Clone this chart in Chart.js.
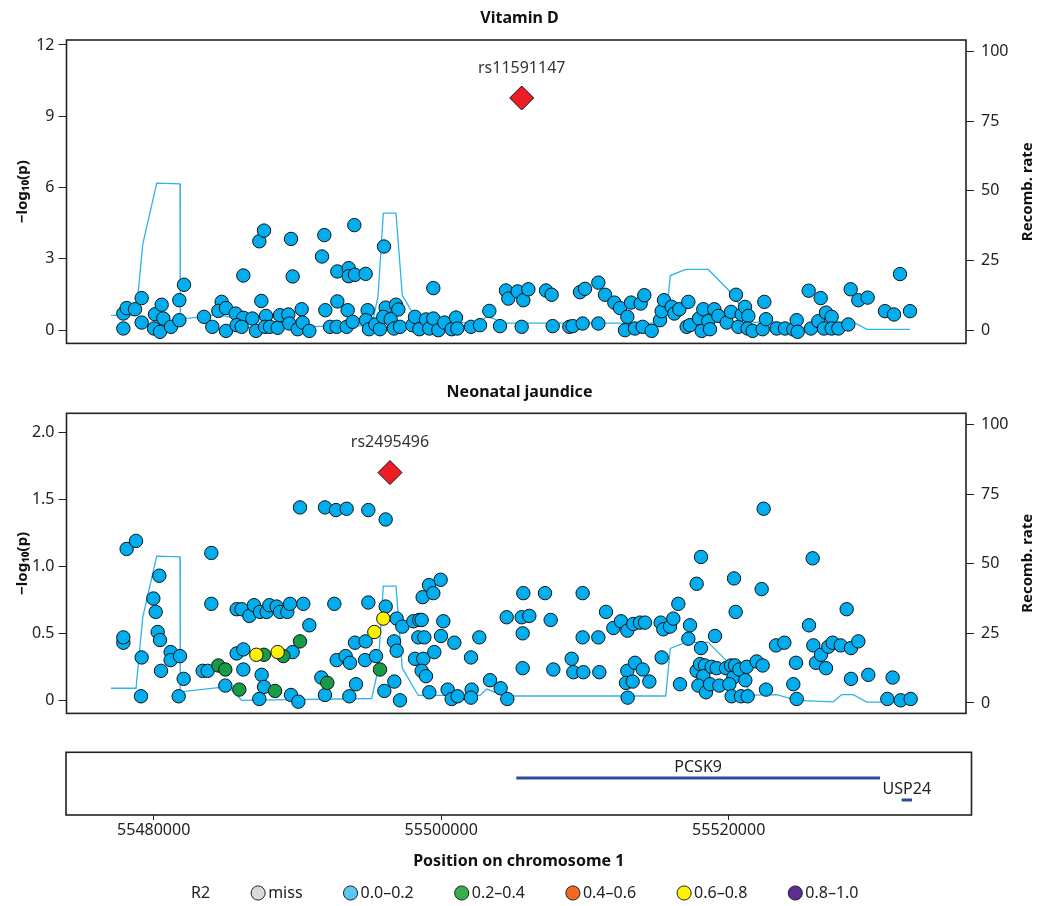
<!DOCTYPE html>
<html>
<head>
<meta charset="utf-8">
<script src="https://cdn.jsdelivr.net/npm/chart.js@4.4.1/dist/chart.umd.min.js"></script>
<style>
html,body{margin:0;padding:0;background:#fff;overflow:hidden;width:1039px;height:906px;}
canvas{position:absolute;left:0;}
#cA{top:0;} #cB{top:360px;} #cC{top:730px;}
</style>
</head>
<body>
<canvas id="cA" width="1039" height="360"></canvas>
<canvas id="cB" width="1039" height="370"></canvas>
<canvas id="cC" width="1039" height="190"></canvas>
<script>
// ---------------- DATA ----------------
const xTicks = [55480000, 55500000, 55520000];
const vitDTicks = [0, 3, 6, 9, 12];
const jaundTicks = [0, 0.5, 1, 1.5, 2];
const jaundTickLabels = ['0', '0.5', '1.0', '1.5', '2.0'];
const recombTicks = [0, 25, 50, 75, 100];

const recombPos = [55477030, 55478769, 55479235, 55480209, 55481830, 55481850, 55484494, 55485517, 55486122, 55495165,
  55495604, 55495972, 55496856, 55497294, 55498407, 55502699, 55503165, 55504438, 55515617, 55515937,
  55517016, 55518581, 55519972, 55521711, 55523339, 55524730, 55527276, 55527861, 55528668, 55529600, 55532612];
const recombRate = [5.3, 5.3, 30.7, 52.8, 52.5, 4.0, 5.5, 4.5, 0.9, 1.6,
  12, 42, 42, 12.5, 2.7, 2.7, 5.0, 2.5, 2.5, 19.6,
  21.8, 21.8, 14.5, 2.8, 3.0, 0.9, 0.4, 3.0, 3.0, 0.3, 0.3];

const vitDLeadName = ['rs11591147'];
const vitDLeadPos = [55505600];
const vitDLeadLogp = [9.77];

const vitDPos = [55477888, 55477888, 55478119, 55478699, 55479163, 55479163, 55480090, 55480021, 55480554, 55480670,
  55480438, 55481203, 55481783, 55481783, 55482108, 55483499, 55484079, 55484728, 55484496, 55485029,
  55485029, 55485702, 55486235, 55485771, 55486119, 55486235, 55486861, 55487116, 55487348, 55487673,
  55487487, 55487812, 55487742, 55488090, 55488624, 55488786, 55489366, 55489435, 55489551, 55489667,
  55490015, 55490293, 55490363, 55490826, 55491708, 55491870, 55491939, 55492264, 55492774, 55492774,
  55492728, 55493424, 55493493, 55493563, 55493563, 55494003, 55493841, 55493957, 55494745, 55494884,
  55494768, 55494977, 55495418, 55495742, 55496021, 55496137, 55495974, 55496855, 55497018, 55496484,
  55496716, 55497134, 55497992, 55498177, 55498479, 55498942, 55499174, 55499452, 55499452, 55499800,
  55500218, 55500728, 55501029, 55501122, 55502073, 55502699, 55503348, 55504090, 55504507, 55504670, 55505319,
  55505598, 55505714, 55506062, 55507291, 55507685, 55507754, 55508914, 55509146, 55509656, 55510004,
  55509841, 55510931, 55510931, 55511395, 55512044, 55512438, 55512786, 55512949, 55513204, 55513482,
  55513876, 55514131, 55514015, 55514641, 55515221, 55515337, 55515499, 55516033, 55516218, 55516566,
  55517192, 55517076, 55517308, 55517934, 55518235, 55518119, 55518583, 55518699, 55519001, 55519279,
  55519859, 55520160, 55520508, 55520670, 55520902, 55521134, 55521366, 55521319, 55521667, 55522363,
  55522479, 55522595, 55523337, 55523916, 55524496, 55524728, 55524798, 55525563, 55525725, 55526235,
  55526398, 55526629, 55526769, 55527163, 55527163, 55527627, 55528322, 55528484, 55529018, 55529667,
  55530873, 55531499, 55531916, 55532612];
const vitDLogp = [0.70, 0.07, 0.93, 0.88, 1.35, 0.32, 0.67, 0.07, 1.07, 0.49,
  -0.07, 0.14, 1.26, 0.42, 1.91, 0.56, 0.14, 1.19, 0.81, 0.93,
  -0.03, 0.70, 0.52, 0.21, 0.14, 2.30, 0.49, -0.03, 3.74, 4.19,
  1.23, 0.60, 0.14, 0.14, 0.10, 0.63, 0.66, 0.28, 3.84, 2.26,
  0.04, 0.88, 0.32, -0.03, 3.10, 4.00, 0.84, 0.14, 1.21, 2.47,
  0.14, 0.14, 0.84, 2.61, 2.27, 2.33, 0.35, 4.42, 2.37, 0.84,
  0.42, 0.04, 0.24, 0.04, 3.52, 0.95, 0.56, 1.07, 0.87, 0.46,
  0.07, 0.14, 0.21, 0.56, 0.04, 0.45, 0.07, 0.49, 1.77, 0.00,
  0.32, 0.04, 0.53, 0.07, 0.14, 0.21, 0.81, 0.17, 1.67, 1.33, 1.63,
  0.14, 1.26, 1.72, 1.67, 1.49, 0.17, 0.14, 0.17, 1.60, 1.74,
  0.28, 2.00, 0.28, 1.49, 1.16, 0.93, 0.00, 0.56, 1.16, 0.07,
  1.12, 1.47, 0.14, -0.03, 0.42, 0.80, 1.26, 0.98, 0.70, 0.88,
  1.19, 0.14, 0.21, 0.49, 0.88, -0.03, 0.38, 0.04, 0.88, 0.60,
  0.32, 0.77, 1.49, 0.14, 0.66, 0.98, 0.60, 0.07, -0.03, 0.04,
  1.19, 0.46, 0.07, 0.07, 0.03, 0.42, -0.07, 1.66, 0.07, 0.38,
  1.35, 0.07, 0.74, 0.56, 0.07, 0.07, 0.24, 1.72, 1.26, 1.37,
  0.80, 0.66, 2.36, 0.80];

const jaundLeadName = ['rs2495496'];
const jaundLeadPos = [55496438];
const jaundLeadLogp = [1.70];

// r2 0.6-0.8 (yellow)
const jaundYellowPos = [55487140, 55488624, 55495348, 55495974];
const jaundYellowLogp = [0.34, 0.36, 0.51, 0.61];
// r2 0.2-0.4 (green)
const jaundGreenPos = [55484496, 55484983, 55485957, 55487673, 55489018, 55490177, 55488438, 55492079, 55495742];
const jaundGreenLogp = [0.26, 0.23, 0.08, 0.34, 0.33, 0.44, 0.07, 0.13, 0.23];
// r2 0.0-0.2 (blue)
const jaundBluePos = [55477888, 55477888, 55478119, 55478769, 55479163, 55479117, 55479974, 55480137, 55480392, 55480276,
  55480438, 55480508, 55481180, 55481180, 55481830, 55481737, 55482085, 55483406, 55483754, 55484009,
  55484009, 55484983, 55485771, 55486119, 55486653, 55486977, 55487395, 55487858, 55488044, 55488554,
  55488786, 55489296, 55489482, 55490409, 55490826, 55485771, 55486235, 55486235, 55489667, 55487511,
  55487673, 55487348, 55489551, 55490061, 55490177, 55491916, 55492682, 55493424, 55492566, 55491661,
  55491916, 55492728, 55493354, 55493655, 55494073, 55493609, 55494003, 55494745, 55494699, 55494931,
  55494931, 55495464, 55496044, 55496137, 55496137, 55496902, 55496716, 55496902, 55496739, 55497134,
  55497296, 55498061, 55498479, 55498641, 55498409, 55498826, 55498177, 55498757, 55498710, 55499151,
  55499452, 55499963, 55500148, 55499986, 55499522, 55498641, 55498942, 55499174, 55500449, 55500728,
  55501145, 55500913, 55502073, 55502119, 55502073, 55502652, 55503394, 55504136, 55504600, 55504554,
  55505714, 55505598, 55505668, 55505668, 55506131, 55507221, 55507615, 55507801, 55509076, 55509192,
  55509841, 55509841, 55509888, 55510931, 55511001, 55511465, 55511975, 55512508, 55512949, 55513366,
  55513830, 55514178, 55512949, 55512856, 55513320, 55513482, 55514015, 55514479, 55512972, 55515267,
  55515453, 55515917, 55516148, 55516496, 55517308, 55517192, 55517772, 55518073, 55518073, 55515337,
  55516612, 55519047, 55517772, 55518004, 55518351, 55518235, 55517888, 55518421, 55518815, 55519163,
  55518699, 55519348, 55519812, 55520160, 55520322, 55520044, 55520369, 55520485, 55520438, 55520740,
  55521157, 55521250, 55520206, 55520856, 55521319, 55521945, 55522363, 55522293, 55522432, 55522595,
  55523290, 55523870, 55524496, 55524682, 55524728, 55525586, 55525841, 55525887, 55526073, 55526421,
  55526769, 55526931, 55527232, 55527789, 55528508, 55529018, 55528206, 55528508, 55529713, 55531406,
  55531035, 55531963, 55532658];
const jaundBlueLogp = [0.43, 0.47, 1.13, 1.19, 0.32, 0.03, 0.76, 0.66, 0.93, 0.51,
  0.45, 0.22, 0.36, 0.30, 0.33, 0.03, 0.16, 0.22, 0.22, 1.10,
  0.72, 0.11, 0.68, 0.68, 0.63, 0.71, 0.66, 0.66, 0.71, 0.70,
  0.66, 0.66, 0.72, 0.72, 0.56, 0.35, 0.38, 0.23, 0.36, 0.19,
  0.10, 0.01, 0.04, -0.01, 1.44, 1.44, 1.42, 1.43, 0.72, 0.17,
  0.04, 0.30, 0.33, 0.28, 0.12, 0.03, 0.43, 0.44, 0.30, 1.42,
  0.73, 0.33, 0.07, 1.35, 0.70, 0.61, 0.44, 0.37, 0.14, 0.00,
  0.55, 0.59, 0.60, 0.60, 0.47, 0.47, 0.31, 0.31, 0.77, 0.86,
  0.80, 0.90, 0.59, 0.48, 0.36, 0.22, 0.18, 0.06, 0.08, 0.01,
  0.03, 0.43, 0.32, 0.08, 0.02, 0.47, 0.15, 0.09, 0.01, 0.62,
  0.80, 0.62, 0.50, 0.24, 0.63, 0.80, 0.60, 0.23, 0.31, 0.21,
  0.80, 0.47, 0.21, 0.47, 0.21, 0.66, 0.54, 0.59, 0.52, 0.57,
  0.58, 0.58, 0.22, 0.13, 0.14, 0.28, 0.23, 0.14, 0.02, 0.58,
  0.53, 0.55, 0.61, 0.72, 0.56, 0.46, 0.87, 1.07, 0.39, 0.32,
  0.12, 0.48, 0.22, 0.27, 0.26, 0.18, 0.11, 0.06, 0.25, 0.24,
  0.12, 0.11, 0.24, 0.26, 0.17, 0.12, 0.91, 0.66, 0.26, 0.23,
  0.15, 0.25, 0.03, 0.03, 0.03, 0.29, 0.26, 0.83, 1.43, 0.08,
  0.41, 0.43, 0.12, 0.28, 0.01, 0.56, 1.06, 0.41, 0.28, 0.34,
  0.24, 0.40, 0.43, 0.41, 0.39, 0.44, 0.68, 0.16, 0.19, 0.17,
  0.01, 0.00, 0.01];

const geneNames = ['PCSK9', 'USP24'];
const geneStart = [55505221, 55532031];
const geneEnd = [55530525, 55532750];
const geneRow = [0, 1];

const legendTitle = 'R2';
const legendLabels = ['miss', '0.0\u20130.2', '0.2\u20130.4', '0.4\u20130.6', '0.6\u20130.8', '0.8\u20131.0'];
const legendColors = ['#D9D9D9', '#5CC6F2', '#36AE4A', '#F26A22', '#FFF200', '#5F2D91'];

// ---------------- STYLE ----------------
const FONT = '"Noto Sans", "Open Sans", "DejaVu Sans", sans-serif';
Chart.defaults.font.family = FONT;
Chart.defaults.color = '#222';
const BLUE = '#00ADEF', GREEN = '#169B48', YELLOW = '#FFF200', RED = '#EE1D25', LINE = '#2FB3EC', INK = '#222';

const pts = (xs, ys) => xs.map((x, i) => ({x: x, y: ys[i]}));
const setTicks = arr => scale => { scale.ticks = arr.map(v => ({value: v})); };

const decor = {
  id: 'decor',
  beforeDatasetsDraw(chart) {
    const a = chart.chartArea, ctx = chart.ctx;
    ctx.save();
    ctx.strokeStyle = INK; ctx.lineWidth = 1.6;
    ctx.strokeRect(a.left, a.top, a.right - a.left, a.bottom - a.top);
    ctx.restore();
  },
  afterDatasetsDraw(chart, args, opts) {
    const ctx = chart.ctx, a = chart.chartArea;
    ctx.save();
    ctx.textAlign = 'center'; ctx.textBaseline = 'middle';
    if (opts.leadNames) {
      const meta = chart.getDatasetMeta(opts.leadDataset);
      ctx.font = '16px ' + FONT; ctx.fillStyle = '#333';
      meta.data.forEach((el, i) => ctx.fillText(opts.leadNames[i], el.x, el.y - 30));
    }
    if (opts.genes) {
      ctx.font = '16px ' + FONT; ctx.fillStyle = '#222';
      opts.genes.forEach((name, i) => {
        const m = chart.getDatasetMeta(i).data;
        ctx.fillText(name, (m[0].x + m[1].x) / 2, m[0].y - 11);
      });
    }
    if (opts.rightTitle) {
      const s = chart.scales.y2;
      ctx.font = 'bold 15px ' + FONT; ctx.fillStyle = '#111';
      ctx.translate(s.right - 11, (a.top + a.bottom) / 2);
      ctx.rotate(-Math.PI / 2);
      ctx.fillText(opts.rightTitle, 0, 0);
    }
    ctx.restore();
  }
};

function yLeft(min, max, ticks, labels) {
  return {
    type: 'linear', position: 'left', min: min, max: max,
    afterBuildTicks: setTicks(ticks),
    afterFit: s => { s.width = 66.5; },
    ticks: {font: {size: 16}, color: INK, padding: 4, callback: (v, i) => labels ? labels[i] : String(v)},
    grid: {drawOnChartArea: false, tickLength: 8, color: INK, tickWidth: 1},
    border: {display: false},
    title: {display: true, text: '\u2212log\u2081\u2080(p)', font: {size: 15, weight: 'bold'}, color: '#111', padding: {top: 14, bottom: 0}}
  };
}
function yRight(min, max) {
  return {
    type: 'linear', position: 'right', min: min, max: max,
    afterBuildTicks: setTicks(recombTicks),
    afterFit: s => { s.width = 73; },
    ticks: {font: {size: 16}, color: INK, padding: 7, callback: v => String(v)},
    grid: {drawOnChartArea: false, tickLength: 8, color: INK, tickWidth: 1},
    border: {display: false}
  };
}
const X_MIN = 55473934, X_MAX = 55536508;

function recombDataset() {
  return {label: 'Recomb', data: pts(recombPos, recombRate), yAxisID: 'y2', showLine: true,
    borderColor: LINE, borderWidth: 1.3, pointRadius: 0, pointHoverRadius: 0, fill: false, tension: 0};
}
function ptsDataset(label, xs, ys, color) {
  return {label: label, data: pts(xs, ys), yAxisID: 'y', backgroundColor: color, borderColor: '#111',
    borderWidth: 1, pointRadius: 6.7, pointHoverRadius: 6.7};
}
function leadDataset(xs, ys) {
  return {label: 'lead', data: pts(xs, ys), yAxisID: 'y', backgroundColor: RED, borderColor: '#111',
    borderWidth: 1, pointStyle: 'rectRot', pointRadius: 12, pointHoverRadius: 12};
}

// ---------------- CHART A: Vitamin D ----------------
new Chart(document.getElementById('cA'), {
  type: 'scatter',
  data: {datasets: [
    leadDataset(vitDLeadPos, vitDLeadLogp),
    ptsDataset('0.0-0.2', vitDPos, vitDLogp, BLUE),
    recombDataset()
  ]},
  options: {
    responsive: false, animation: false, events: [],
    layout: {padding: {left: 0, right: 0, top: 0, bottom: 15}},
    plugins: {
      legend: {display: false}, tooltip: {enabled: false},
      title: {display: true, text: 'Vitamin D', font: {size: 16, weight: 'bold'}, color: '#111', padding: {top: 8.9, bottom: 11.9}},
      decor: {leadDataset: 0, leadNames: vitDLeadName, rightTitle: 'Recomb. rate'}
    },
    scales: {
      x: {type: 'linear', display: false, min: X_MIN, max: X_MAX},
      y: yLeft(-0.557, 12.21, vitDTicks, null),
      y2: yRight(-4.75, 104.18)
    }
  },
  plugins: [decor]
});

// ---------------- CHART B: Neonatal jaundice ----------------
new Chart(document.getElementById('cB'), {
  type: 'scatter',
  data: {datasets: [
    leadDataset(jaundLeadPos, jaundLeadLogp),
    ptsDataset('0.6-0.8', jaundYellowPos, jaundYellowLogp, YELLOW),
    ptsDataset('0.2-0.4', jaundGreenPos, jaundGreenLogp, GREEN),
    ptsDataset('0.0-0.2', jaundBluePos, jaundBlueLogp, BLUE),
    recombDataset()
  ]},
  options: {
    responsive: false, animation: false, events: [],
    layout: {padding: {left: 0, right: 0, top: 0, bottom: 11.7}},
    plugins: {
      legend: {display: false}, tooltip: {enabled: false},
      title: {display: true, text: 'Neonatal jaundice', font: {size: 16, weight: 'bold'}, color: '#111', padding: {top: 22.9, bottom: 11.2}},
      decor: {leadDataset: 0, leadNames: jaundLeadName, rightTitle: 'Recomb. rate'}
    },
    scales: {
      x: {type: 'linear', display: false, min: X_MIN, max: X_MAX},
      y: yLeft(-0.0977, 2.1425, jaundTicks, jaundTickLabels),
      y2: yRight(-3.75, 104.14)
    }
  },
  plugins: [decor]
});

// ---------------- CHART C: genes + x axis + legend ----------------
new Chart(document.getElementById('cC'), {
  type: 'scatter',
  data: {datasets: geneNames.map((n, i) => ({
    label: n, data: [{x: geneStart[i], y: geneRow[i]}, {x: geneEnd[i], y: geneRow[i]}],
    showLine: true, borderColor: '#2E4A9E', borderWidth: 3, borderCapStyle: 'butt',
    pointRadius: 0, pointHoverRadius: 0
  }))},
  options: {
    responsive: false, animation: false, events: [],
    layout: {padding: {left: 66, right: 67.5, top: 22.3, bottom: 9}},
    plugins: {
      tooltip: {enabled: false},
      title: {display: false},
      decor: {genes: geneNames},
      legend: {
        display: true, position: 'bottom',
        labels: {
          font: {size: 16}, color: INK, padding: 46, usePointStyle: true, boxWidth: 4, boxHeight: 10,
          generateLabels: () => [{text: legendTitle, fillStyle: 'rgba(0,0,0,0)', strokeStyle: 'rgba(0,0,0,0)', lineWidth: 0, pointStyle: 'circle', hidden: false, fontColor: INK}]
            .concat(legendLabels.map((t, i) => ({text: t, fillStyle: legendColors[i], strokeStyle: '#222', lineWidth: 1, pointStyle: 'circle', hidden: false, fontColor: INK})))
        }
      }
    },
    scales: {
      x: {
        type: 'linear', position: 'bottom', min: 55473899, max: 55536890,
        afterBuildTicks: setTicks(xTicks),
        afterFit: s => { s.height = 24; },
        ticks: {font: {size: 16}, color: INK, padding: 1, maxRotation: 0, autoSkip: false, callback: v => String(v)},
        grid: {drawOnChartArea: false, tickLength: 5, color: INK, tickWidth: 1},
        border: {display: false},
        title: {display: true, text: 'Position on chromosome 1', font: {size: 16, weight: 'bold'}, color: '#111', padding: {top: 0, bottom: -31.6}}
      },
      y: {type: 'linear', display: false, reverse: true, min: -1.168, max: 1.682}
    }
  },
  plugins: [decor]
});
</script>
</body>
</html>
